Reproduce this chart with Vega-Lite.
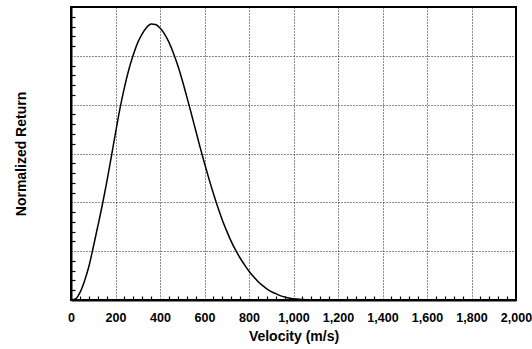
{
  "$schema": "https://vega.github.io/schema/vega-lite/v6.json",
  "width": 445,
  "height": 293,
  "autosize": "none",
  "padding": {"left": 71, "top": 7, "right": 16, "bottom": 49},
  "background": "white",
  "config": {
    "view": {"stroke": "black", "strokeWidth": 2},
    "font": "Liberation Sans"
  },
  "data": {
    "values": [
      {"v": 0, "r": 0}, {"v": 20, "r": 0.02}, {"v": 40, "r": 0.15}, {"v": 60, "r": 0.38},
      {"v": 80, "r": 0.68}, {"v": 100, "r": 1.08}, {"v": 120, "r": 1.5}, {"v": 140, "r": 1.93},
      {"v": 160, "r": 2.4}, {"v": 180, "r": 2.9}, {"v": 200, "r": 3.42}, {"v": 220, "r": 3.92},
      {"v": 240, "r": 4.35}, {"v": 260, "r": 4.72}, {"v": 280, "r": 5.02}, {"v": 300, "r": 5.27},
      {"v": 320, "r": 5.45}, {"v": 340, "r": 5.58}, {"v": 360, "r": 5.65}, {"v": 380, "r": 5.64},
      {"v": 400, "r": 5.57}, {"v": 420, "r": 5.45}, {"v": 440, "r": 5.28}, {"v": 460, "r": 5.06},
      {"v": 480, "r": 4.8}, {"v": 500, "r": 4.5}, {"v": 520, "r": 4.17}, {"v": 540, "r": 3.83},
      {"v": 560, "r": 3.48}, {"v": 580, "r": 3.13}, {"v": 600, "r": 2.8}, {"v": 620, "r": 2.48},
      {"v": 640, "r": 2.18}, {"v": 660, "r": 1.9}, {"v": 680, "r": 1.64}, {"v": 700, "r": 1.41},
      {"v": 720, "r": 1.2}, {"v": 740, "r": 1.02}, {"v": 760, "r": 0.86}, {"v": 780, "r": 0.72},
      {"v": 800, "r": 0.59}, {"v": 820, "r": 0.48}, {"v": 840, "r": 0.38}, {"v": 860, "r": 0.3},
      {"v": 880, "r": 0.23}, {"v": 900, "r": 0.17}, {"v": 920, "r": 0.13}, {"v": 940, "r": 0.09},
      {"v": 960, "r": 0.06}, {"v": 980, "r": 0.04}, {"v": 1000, "r": 0.025}, {"v": 1040, "r": 0.01},
      {"v": 1080, "r": 0.003}, {"v": 1120, "r": 0}, {"v": 2000, "r": 0}
    ]
  },
  "layer": [
    {
      "mark": {"type": "line", "color": "black", "strokeWidth": 1.5, "interpolate": "monotone"},
      "encoding": {
        "x": {
          "field": "v", "type": "quantitative",
          "scale": {"domain": [0, 2000], "nice": false},
          "axis": {
            "values": [0, 200, 400, 600, 800, 1000, 1200, 1400, 1600, 1800, 2000],
            "format": ",d",
            "labelOverlap": false,
            "labelBound": false,
            "labelFlush": false,
            "title": "Velocity (m/s)",
            "titleFont": "Liberation Sans", "titleFontSize": 14, "titleFontWeight": "bold", "titleColor": "black",
            "titlePadding": 6,
            "labelFont": "Liberation Sans", "labelFontSize": 12.5, "labelFontWeight": "bold", "labelColor": "black",
            "labelPadding": 11,
            "ticks": false, "domain": true, "domainColor": "black", "domainWidth": 2,
            "grid": true, "gridColor": "black", "gridDash": [1, 2], "gridWidth": 1, "gridOpacity": 0.9
          }
        },
        "y": {
          "field": "r", "type": "quantitative",
          "scale": {"domain": [0, 6], "nice": false},
          "axis": {
            "values": [0, 1, 2, 3, 4, 5, 6],
            "labels": false, "ticks": false,
            "title": "Normalized Return",
            "titleFont": "Liberation Sans", "titleFontSize": 14, "titleFontWeight": "bold", "titleColor": "black",
            "titlePadding": 43,
            "domain": true, "domainColor": "black", "domainWidth": 2,
            "grid": true, "gridColor": "black", "gridDash": [1, 2], "gridWidth": 1, "gridOpacity": 0.9
          }
        }
      }
    },
    {
      "mark": {"type": "line", "strokeOpacity": 0},
      "encoding": {
        "x": {
          "field": "v", "type": "quantitative",
          "axis": {
            "orient": "bottom",
            "values": [40, 80, 120, 160, 240, 280, 320, 360, 440, 480, 520, 560, 640, 680, 720, 760, 840, 880, 920, 960, 1040, 1080, 1120, 1160, 1240, 1280, 1320, 1360, 1440, 1480, 1520, 1560, 1640, 1680, 1720, 1760, 1840, 1880, 1920, 1960],
            "labels": false, "title": null, "grid": false, "domain": false,
            "tickSize": -4, "tickColor": "black", "tickWidth": 1.2
          }
        },
        "y": {
          "field": "r", "type": "quantitative",
          "axis": {
            "orient": "left",
            "values": [0.2, 0.4, 0.6, 0.8, 1.2, 1.4, 1.6, 1.8, 2.2, 2.4, 2.6, 2.8, 3.2, 3.4, 3.6, 3.8, 4.2, 4.4, 4.6, 4.8, 5.2, 5.4, 5.6, 5.8],
            "labels": false, "title": null, "grid": false, "domain": false,
            "tickSize": -4, "tickColor": "black", "tickWidth": 1.2
          }
        }
      }
    }
  ],
  "resolve": {"axis": {"x": "independent", "y": "independent"}}
}
